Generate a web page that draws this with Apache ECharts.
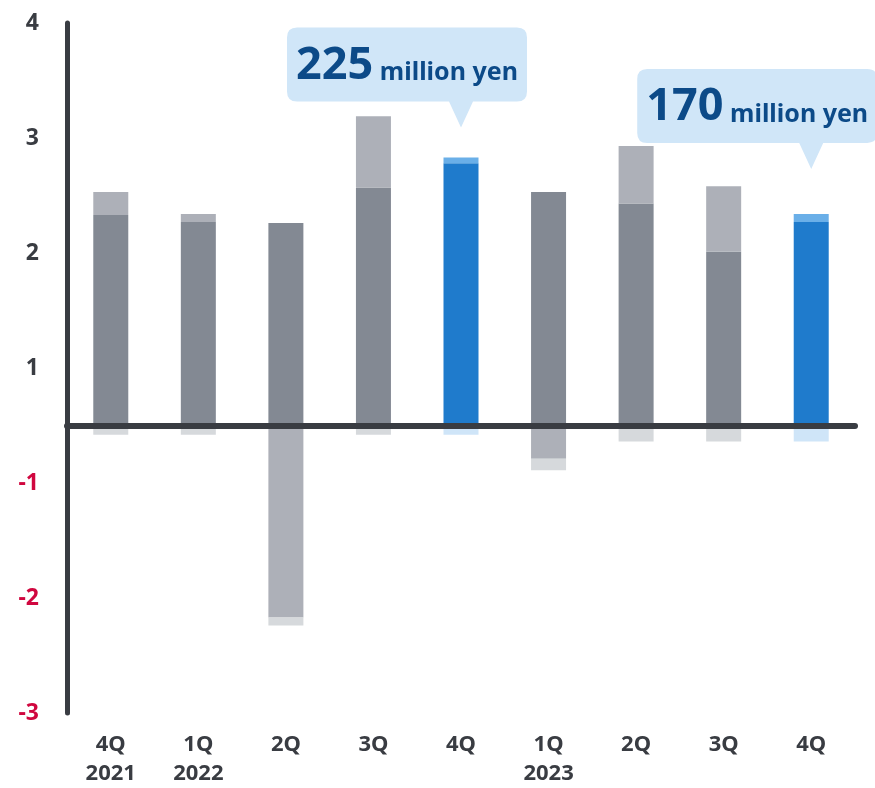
<!DOCTYPE html>
<html>
<head>
<meta charset="utf-8">
<script src="https://cdn.jsdelivr.net/npm/echarts@6/dist/echarts.min.js"></script>
<style>
  html, body { margin: 0; padding: 0; background: #ffffff; }
  #chart { width: 875px; height: 788px; }
</style>
</head>
<body>
<div id="chart"></div>
<script>
// Quarterly profit breakdown, in units of 100 million yen
const quarters = ['4Q', '1Q', '2Q', '3Q', '4Q', '1Q', '2Q', '3Q', '4Q'];
const years    = ['2021', '2022', '', '', '', '2023', '', '', ''];

// Stacked segments per quarter
const posMain  = [1.83, 1.77, 1.76, 2.07, 2.28, 2.03, 1.93, 1.51, 1.77];
const posExtra = [0.20, 0.07, 0.00, 0.62, 0.05, 0.00, 0.50, 0.57, 0.07];
const negMain  = [0.00, 0.00, -1.67, 0.00, 0.00, -0.29, 0.00, 0.00, 0.00];
const negExtra = [-0.08, -0.08, -0.07, -0.08, -0.08, -0.10, -0.14, -0.14, -0.14];

// Quarters drawn in blue, with a callout stating the net amount
const highlight = [4, 8];

// Value-axis tick labels, bottom to top
const yTickLabels = ['-3', '-2', '-1', '1', '2', '3', '4'];

const AXIS = '#393c42';
const NEG_LABEL = '#d0073f';
const C = {
  main: '#838993', extra: '#adb0b8', negMain: '#adb0b8', negExtra: '#d6d9dc',
  hiMain: '#1f7bcc', hiExtra: '#6aafe8', hiNeg: '#cfe5f8'
};
const FONT = '"Noto Sans", "Open Sans", sans-serif';

const isHi = i => highlight.indexOf(i) >= 0;
const colorFn = (normal, hi) => p => (isHi(p.dataIndex) ? hi : normal);

const categories = quarters.map((q, i) => years[i] ? q + '\n' + years[i] : q);

// Callouts: placed at the top of each highlighted stack
const calloutOffsets = { 4: [-54, -80], 8: [-54, -95] };
const callouts = highlight.map(i => {
  const net = posMain[i] + posExtra[i] + negMain[i] + negExtra[i];
  return {
    coord: [i, posMain[i] + posExtra[i]],
    value: Math.round(net * 100),
    symbolOffset: calloutOffsets[i]
  };
});

const bubblePath = 'path://M10,0 H230 Q240,0 240,10 V64 Q240,74 230,74 H186 L174,100 L162,74 H10 Q0,74 0,64 V10 Q0,0 10,0 Z';

const barBase = {
  type: 'bar',
  stack: 'total',
  barWidth: 35,
  silent: true,
  emphasis: { disabled: true }
};

const chart = echarts.init(document.getElementById('chart'), null, { renderer: 'canvas' });

chart.setOption({
  animation: false,
  backgroundColor: '#ffffff',
  textStyle: { fontFamily: FONT },
  grid: { left: 67, right: 20, top: 23, bottom: 68, containLabel: false },
  xAxis: {
    type: 'category',
    data: categories,
    axisLine: { show: false, onZero: false },
    axisTick: { show: false },
    axisLabel: {
      margin: 17,
      fontSize: 22,
      fontWeight: 'bold',
      lineHeight: 29,
      color: AXIS,
      fontFamily: FONT
    }
  },
  yAxis: {
    type: 'value',
    min: -2.5,
    max: 3.5,
    interval: 0.5,
    axisLine: { show: true, lineStyle: { color: AXIS, width: 5, cap: 'round' } },
    axisTick: { show: false },
    splitLine: { show: false },
    axisLabel: {
      margin: 28,
      fontSize: 23,
      fontWeight: 'bold',
      fontFamily: FONT,
      formatter: v => {
        const k = v + 2.5;
        return Math.abs(k - Math.round(k)) < 1e-6 ? yTickLabels[Math.round(k)] : '';
      },
      color: v => (v < 0 ? NEG_LABEL : AXIS)
    }
  },
  series: [
    Object.assign({}, barBase, {
      name: 'main',
      data: posMain,
      itemStyle: { color: colorFn(C.main, C.hiMain) }
    }),
    Object.assign({}, barBase, {
      name: 'extra',
      data: posExtra,
      itemStyle: { color: colorFn(C.extra, C.hiExtra) },
      markPoint: {
        silent: true,
        symbol: bubblePath,
        symbolSize: [240, 100],
        itemStyle: { color: '#d0e6f8' },
        label: {
          show: true,
          position: 'inside',
          offset: [0, -14],
          color: '#0c4a88',
          formatter: p => '{big|' + p.value + '}{small| million yen}',
          rich: {
            big: { fontSize: 45, fontWeight: 'bold', fontFamily: FONT, color: '#0c4a88', verticalAlign: 'bottom', lineHeight: 50 },
            small: { fontSize: 25, fontWeight: 'bold', fontFamily: FONT, color: '#0c4a88', verticalAlign: 'bottom', lineHeight: 50, padding: [0, 0, 3, 0] }
          }
        },
        data: callouts
      }
    }),
    Object.assign({}, barBase, {
      name: 'negMain',
      data: negMain,
      itemStyle: { color: C.negMain }
    }),
    Object.assign({}, barBase, {
      name: 'negExtra',
      data: negExtra,
      itemStyle: { color: colorFn(C.negExtra, C.hiNeg) },
      markLine: {
        silent: true,
        symbol: ['none', 'none'],
        label: { show: false },
        emphasis: { disabled: true },
        lineStyle: { color: AXIS, width: 6, type: 'solid', cap: 'round' },
        data: [{ yAxis: 0 }]
      }
    })
  ]
});
</script>
</body>
</html>
